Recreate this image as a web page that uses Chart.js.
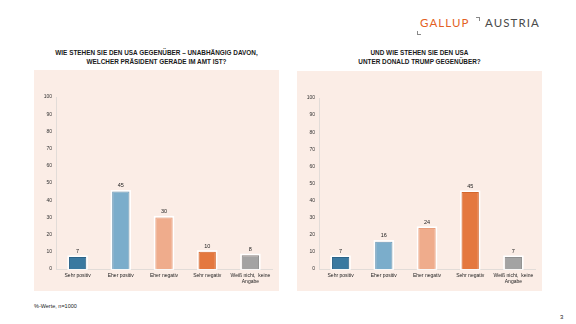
<!DOCTYPE html>
<html>
<head>
<meta charset="utf-8">
<script src="https://cdn.jsdelivr.net/npm/chart.js@4"></script>
<style>
  body { margin: 0; width: 576px; height: 324px; background: #fff; position: relative; overflow: hidden; font-family: "Liberation Sans", Arial, sans-serif; }
  .abs { position: absolute; }
  .title { font-weight: bold; font-size: 6.4px; color: #1a1a1a; text-align: center; line-height: 9px; }
  .panel { background: #fbede6; }
  .logo { font-family: Lato, "Open Sans", sans-serif; font-weight: 400; font-size: 11.5px; letter-spacing: 1.1px; top: 16px; line-height: 14px; }
  .mark { position: absolute; width: 3px; height: 3px; border-color: #888; border-style: solid; border-width: 0; }
</style>
</head>
<body>
<div class="abs logo" style="left:420px;color:#e35f24;">GALLUP</div>
<div class="abs logo" style="left:485px;color:#4a4a4a;">AUSTRIA</div>
<div class="mark" style="left:417px;top:31px;border-left-width:1px;border-bottom-width:1px;"></div>
<div class="mark" style="left:476px;top:17px;border-right-width:1px;border-top-width:1px;"></div>

<div class="abs title" style="left:34px;width:245px;top:48px;">WIE STEHEN SIE DEN USA GEGENÜBER – UNABHÄNGIG DAVON,<br>WELCHER PRÄSIDENT GERADE IM AMT IST?</div>
<div class="abs title" style="left:297px;width:245px;top:48px;">UND WIE STEHEN SIE DEN USA<br>UNTER DONALD TRUMP GEGENÜBER?</div>

<div class="abs panel" style="left:34px;top:70px;width:245px;height:221px;"><canvas id="chartLeft" width="245" height="221"></canvas></div>
<div class="abs panel" style="left:297px;top:71px;width:245px;height:220px;"><canvas id="chartRight" width="245" height="220"></canvas></div>

<div class="abs" style="left:34px;top:303px;font-size:5.5px;color:#222;">%-Werte, n=1000</div>
<div class="abs" style="left:560px;top:314px;font-size:6px;color:#222;">3</div>

<script>
const categories = ['Sehr positiv', 'Eher positiv', 'Eher negativ', 'Sehr negativ', ['Weiß nicht,  keine', 'Angabe']];
const valuesGeneral = [7, 45, 30, 10, 8];
const valuesTrump = [7, 16, 24, 45, 7];
const yTicks = [0, 10, 20, 30, 40, 50, 60, 70, 80, 90, 100];
const barColors = ['#3a79a0', '#7badcb', '#efac8c', '#e4783f', '#a3a3a3'];
const barBorders = ['#2b6388', '#6b9dbd', '#e89e7c', '#d4682f', '#8f8f8f'];

// white outline around each bar + value label above it
const barExtras = {
  id: 'barExtras',
  beforeDatasetsDraw(chart) {
    const ctx = chart.ctx;
    chart.getDatasetMeta(0).data.forEach(bar => {
      const w = bar.width;
      ctx.save();
      ctx.strokeStyle = '#ffffff';
      ctx.lineWidth = 1.5;
      ctx.strokeRect(bar.x - w / 2 - 0.75, bar.y - 0.75, w + 1.5, bar.base - bar.y + 0.75);
      ctx.restore();
    });
  },
  afterDatasetsDraw(chart) {
    const ctx = chart.ctx;
    const vals = chart.data.datasets[0].data;
    ctx.save();
    ctx.font = '5.5px "Liberation Sans", Arial, sans-serif';
    ctx.fillStyle = '#222';
    ctx.textAlign = 'center';
    ctx.textBaseline = 'bottom';
    chart.getDatasetMeta(0).data.forEach((bar, i) => {
      ctx.fillText(vals[i], bar.x, bar.y - 3);
    });
    ctx.restore();
  }
};

function makeChart(id, values) {
  const ctx = document.getElementById(id).getContext('2d');
  return new Chart(ctx, {
    type: 'bar',
    data: {
      labels: categories,
      datasets: [{
        data: values,
        backgroundColor: barColors,
        borderColor: barBorders,
        borderWidth: 1,
        barPercentage: 0.4,
        categoryPercentage: 1
      }]
    },
    options: {
      responsive: false,
      animation: false,
      layout: { padding: { top: 27, right: 7, left: 0, bottom: 0 } },
      plugins: { legend: { display: false }, tooltip: { enabled: false } },
      scales: {
        x: {
          grid: { display: false, drawTicks: false },
          border: { color: '#e2dcd8' },
          ticks: { font: { size: 5, family: '"Liberation Sans", Arial, sans-serif' }, color: '#222', padding: 4, maxRotation: 0, autoSkip: false },
          afterFit: s => { s.height = 22; }
        },
        y: {
          min: 0, max: 100,
          afterBuildTicks: s => { s.ticks = yTicks.map(v => ({ value: v })); },
          grid: { display: false, drawTicks: false },
          border: { color: '#e2dcd8' },
          ticks: { font: { size: 5, family: '"Liberation Sans", Arial, sans-serif' }, color: '#333', padding: 4 },
          afterFit: s => { s.width = 22; }
        }
      }
    },
    plugins: [barExtras]
  });
}

makeChart('chartLeft', valuesGeneral);
makeChart('chartRight', valuesTrump);
</script>
</body>
</html>
